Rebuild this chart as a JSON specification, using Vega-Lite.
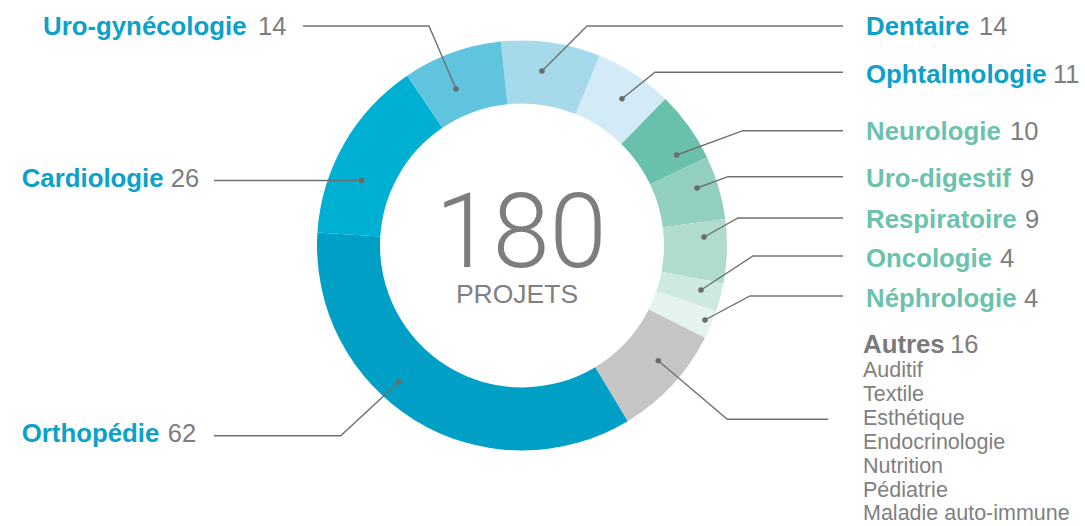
{
  "$schema": "https://vega.github.io/schema/vega-lite/v6.json",
  "width": 1044,
  "height": 491,
  "autosize": {"type": "none"},
  "padding": {"left": 0, "top": 0, "right": 41, "bottom": 35},
  "background": "#ffffff",
  "config": {"view": {"stroke": null}},
  "datasets": {
    "slices": [
      {"name": "Dentaire", "n": 14, "ord": 1, "grp": "bleu", "lx": 866, "ly": 35, "nx": 979},
      {"name": "Ophtalmologie", "n": 11, "ord": 2, "grp": "bleu", "lx": 866, "ly": 83, "nx": 1053},
      {"name": "Neurologie", "n": 10, "ord": 3, "grp": "vert", "lx": 866, "ly": 140, "nx": 1010},
      {"name": "Uro-digestif", "n": 9, "ord": 4, "grp": "vert", "lx": 866, "ly": 187, "nx": 1020},
      {"name": "Respiratoire", "n": 9, "ord": 5, "grp": "vert", "lx": 866, "ly": 228, "nx": 1025},
      {"name": "Oncologie", "n": 4, "ord": 6, "grp": "vert", "lx": 866, "ly": 267, "nx": 1000},
      {"name": "Néphrologie", "n": 4, "ord": 7, "grp": "vert", "lx": 866, "ly": 307, "nx": 1024},
      {"name": "Autres", "n": 16, "ord": 8, "grp": "autres", "lx": 863, "ly": 353, "nx": 950},
      {"name": "Orthopédie", "n": 62, "ord": 9, "grp": "bleu", "lx": 21.7, "ly": 441.7, "nx": 167.7},
      {"name": "Cardiologie", "n": 26, "ord": 10, "grp": "bleu", "lx": 21.7, "ly": 186.7, "nx": 170.7},
      {"name": "Uro-gynécologie", "n": 14, "ord": 11, "grp": "bleu", "lx": 43, "ly": 34.5, "nx": 258}
    ],
    "leaders": [
      {"seg": "Uro-gynécologie", "k": 0, "x": 456, "y": 89},
      {"seg": "Uro-gynécologie", "k": 1, "x": 429, "y": 26},
      {"seg": "Uro-gynécologie", "k": 2, "x": 303, "y": 26},
      {"seg": "Dentaire", "k": 0, "x": 542, "y": 71},
      {"seg": "Dentaire", "k": 1, "x": 587, "y": 26},
      {"seg": "Dentaire", "k": 2, "x": 843, "y": 26},
      {"seg": "Ophtalmologie", "k": 0, "x": 622, "y": 98.7},
      {"seg": "Ophtalmologie", "k": 1, "x": 655, "y": 72.3},
      {"seg": "Ophtalmologie", "k": 2, "x": 843, "y": 72.3},
      {"seg": "Neurologie", "k": 0, "x": 676.7, "y": 155},
      {"seg": "Neurologie", "k": 1, "x": 743, "y": 130.7},
      {"seg": "Neurologie", "k": 2, "x": 843, "y": 130.7},
      {"seg": "Uro-digestif", "k": 0, "x": 697, "y": 188},
      {"seg": "Uro-digestif", "k": 1, "x": 728, "y": 176.7},
      {"seg": "Uro-digestif", "k": 2, "x": 843, "y": 176.7},
      {"seg": "Respiratoire", "k": 0, "x": 704, "y": 237},
      {"seg": "Respiratoire", "k": 1, "x": 738, "y": 218},
      {"seg": "Respiratoire", "k": 2, "x": 843, "y": 218},
      {"seg": "Oncologie", "k": 0, "x": 701, "y": 290},
      {"seg": "Oncologie", "k": 1, "x": 753, "y": 256},
      {"seg": "Oncologie", "k": 2, "x": 843, "y": 256},
      {"seg": "Néphrologie", "k": 0, "x": 705, "y": 320},
      {"seg": "Néphrologie", "k": 1, "x": 750, "y": 296},
      {"seg": "Néphrologie", "k": 2, "x": 843, "y": 296},
      {"seg": "Autres", "k": 0, "x": 658.3, "y": 360.7},
      {"seg": "Autres", "k": 1, "x": 727.3, "y": 419.3},
      {"seg": "Autres", "k": 2, "x": 828.3, "y": 419.3},
      {"seg": "Orthopédie", "k": 0, "x": 399, "y": 381.7},
      {"seg": "Orthopédie", "k": 1, "x": 340.7, "y": 435.7},
      {"seg": "Orthopédie", "k": 2, "x": 214, "y": 435.7},
      {"seg": "Cardiologie", "k": 0, "x": 361.7, "y": 180.5},
      {"seg": "Cardiologie", "k": 2, "x": 214, "y": 180.5}
    ],
    "autres": [
      {"item": "Auditif", "x": 863, "y": 377},
      {"item": "Textile", "x": 863, "y": 401},
      {"item": "Esthétique", "x": 863, "y": 425},
      {"item": "Endocrinologie", "x": 863, "y": 449},
      {"item": "Nutrition", "x": 863, "y": 473},
      {"item": "Pédiatrie", "x": 863, "y": 497},
      {"item": "Maladie auto-immune", "x": 863, "y": 520}
    ],
    "centre": [
      {"label": "180", "x": 521, "y": 266.5, "kind": "total"},
      {"label": "PROJETS", "x": 517, "y": 303.3, "kind": "unit"}
    ]
  },
  "layer": [
    {
      "data": {"name": "slices"},
      "mark": {"type": "arc", "outerRadius": 205, "innerRadius": 142},
      "encoding": {
        "theta": {"field": "n", "type": "quantitative", "stack": true, "scale": {"range": [-0.103, 6.1802]}},
        "order": {"field": "ord", "type": "quantitative"},
        "color": {
          "field": "name", "type": "nominal", "legend": null,
          "scale": {
            "domain": ["Dentaire", "Ophtalmologie", "Neurologie", "Uro-digestif", "Respiratoire", "Oncologie", "Néphrologie", "Autres", "Orthopédie", "Cardiologie", "Uro-gynécologie"],
            "range": ["#a6d9ea", "#d3ebf6", "#69c0ad", "#93cfbf", "#b0dbcf", "#cde9e0", "#e4f3ef", "#c5c5c5", "#00a0c6", "#00b0d3", "#60c4df"]
          }
        }
      }
    },
    {
      "data": {"name": "leaders"},
      "mark": {"type": "line", "color": "#707070", "strokeWidth": 1.4, "interpolate": "linear"},
      "encoding": {
        "x": {"field": "x", "type": "quantitative", "scale": {"domain": [0, 1044], "nice": false, "zero": false}, "axis": null},
        "y": {"field": "y", "type": "quantitative", "scale": {"domain": [0, 491], "nice": false, "zero": false, "reverse": true}, "axis": null},
        "detail": {"field": "seg", "type": "nominal"},
        "order": {"field": "k", "type": "quantitative"}
      }
    },
    {
      "data": {"name": "leaders"},
      "transform": [{"filter": "datum.k == 0"}],
      "mark": {"type": "circle", "color": "#6a6a6a", "size": 30, "opacity": 1},
      "encoding": {
        "x": {"field": "x", "type": "quantitative"},
        "y": {"field": "y", "type": "quantitative"}
      }
    },
    {
      "data": {"name": "slices"},
      "mark": {"type": "text", "align": "left", "baseline": "alphabetic", "font": "Liberation Sans", "fontWeight": "bold"},
      "encoding": {
        "x": {"field": "lx", "type": "quantitative"},
        "y": {"field": "ly", "type": "quantitative"},
        "text": {"field": "name", "type": "nominal"},
        "size": {"field": "grp", "type": "nominal", "legend": null, "scale": {"domain": ["bleu", "vert", "autres"], "range": [25.8, 25.8, 24]}},
        "color": {
          "field": "grp", "type": "nominal", "legend": null,
          "scale": {"domain": ["bleu", "vert", "autres"], "range": ["#0ca1c9", "#6bc2ad", "#7a7a7a"]}
        }
      }
    },
    {
      "data": {"name": "slices"},
      "mark": {"type": "text", "align": "left", "baseline": "alphabetic", "font": "Liberation Sans", "color": "#7d7d7d"},
      "encoding": {
        "x": {"field": "nx", "type": "quantitative"},
        "y": {"field": "ly", "type": "quantitative"},
        "text": {"field": "n", "type": "quantitative", "format": "d"},
        "size": {"field": "grp", "type": "nominal", "legend": null, "scale": {"domain": ["bleu", "vert", "autres"], "range": [25.5, 25.5, 24]}}
      }
    },
    {
      "data": {"name": "autres"},
      "mark": {"type": "text", "align": "left", "baseline": "alphabetic", "font": "Liberation Sans", "fontSize": 21.5, "color": "#808080"},
      "encoding": {
        "x": {"field": "x", "type": "quantitative"},
        "y": {"field": "y", "type": "quantitative"},
        "text": {"field": "item", "type": "nominal"}
      }
    },
    {
      "data": {"name": "centre"},
      "transform": [{"filter": "datum.kind == 'total'"}],
      "mark": {"type": "text", "align": "center", "baseline": "alphabetic", "font": "Roboto", "fontWeight": 300, "fontSize": 103, "color": "#7d7d7d"},
      "encoding": {
        "x": {"field": "x", "type": "quantitative"},
        "y": {"field": "y", "type": "quantitative"},
        "text": {"field": "label", "type": "nominal"}
      }
    },
    {
      "data": {"name": "centre"},
      "transform": [{"filter": "datum.kind == 'unit'"}],
      "mark": {"type": "text", "align": "center", "baseline": "alphabetic", "font": "Liberation Sans", "fontSize": 26.5, "color": "#808080"},
      "encoding": {
        "x": {"field": "x", "type": "quantitative"},
        "y": {"field": "y", "type": "quantitative"},
        "text": {"field": "label", "type": "nominal"}
      }
    }
  ],
  "resolve": {"scale": {"color": "independent", "size": "independent"}}
}
